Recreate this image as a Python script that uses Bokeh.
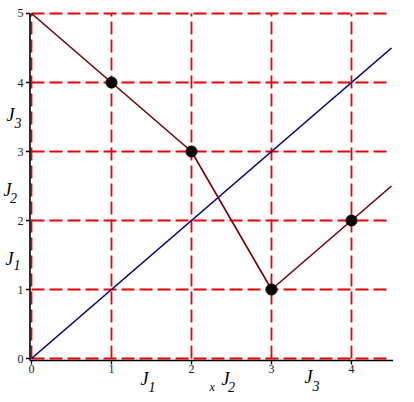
from bokeh.plotting import figure
from bokeh.models import Range1d
from bokeh.core.properties import value
from bokeh.embed import file_html
from bokeh.resources import INLINE

# data
line1_x = [0, 4.5]
line1_y = [0, 4.5]
line2_x = [0, 1, 2, 3, 4, 4.5]
line2_y = [5, 4, 3, 1, 2, 2.5]
pts_x = [1, 2, 3, 4]
pts_y = [4, 3, 1, 2]
x_ticks = [0, 1, 2, 3, 4]
y_ticks = [0, 1, 2, 3, 4, 5]
x_max = 4.5
y_max = 5

SERIF = value("Liberation Serif")

# frame covers the whole canvas so that labels outside the plot area are not clipped
p = figure(width=406, height=394, output_backend="svg", toolbar_location=None,
           x_range=Range1d(-0.3875, 4.6875), y_range=Range1d(-0.5217, 5.1884),
           x_axis_type=None, y_axis_type=None, min_border=0)
p.outline_line_color = None
p.background_fill_color = "white"
p.border_fill_color = "white"

# axis positions (just left of / below the zero lines)
ax_x = -0.019
ax_y = -0.029
tick_dx = 0.05
tick_dy = 0.058

# grid
p.segment(x0=x_ticks, y0=[0] * len(x_ticks), x1=x_ticks, y1=[y_max] * len(x_ticks),
          line_color="#ee0000", line_width=1.8, line_dash="13 5")
p.segment(x0=[0] * len(y_ticks), y0=y_ticks, x1=[x_max] * len(y_ticks), y1=y_ticks,
          line_color="#ee0000", line_width=1.8, line_dash="13 5")

# axes
p.segment(x0=[ax_x, ax_x], y0=[ax_y, ax_y], x1=[ax_x, x_max + 0.02], y1=[y_max, ax_y],
          line_color="black", line_width=1.6)
p.segment(x0=x_ticks, y0=[ax_y] * len(x_ticks), x1=x_ticks, y1=[ax_y - tick_dy] * len(x_ticks),
          line_color="black", line_width=1.3)
p.segment(x0=[ax_x] * len(y_ticks), y0=y_ticks, x1=[ax_x - tick_dx] * len(y_ticks), y1=y_ticks,
          line_color="black", line_width=1.3)
p.text(x=x_ticks, y=[-0.101] * len(x_ticks), text=[str(t) for t in x_ticks],
       text_font=SERIF, text_font_size="12px", text_color="#1a1a1a",
       text_align="center", text_baseline="top")
p.text(x=[-0.1] * len(y_ticks), y=y_ticks, text=[str(t) for t in y_ticks],
       text_font=SERIF, text_font_size="12px", text_color="#1a1a1a",
       text_align="right", text_baseline="middle")

# curves
p.line(line1_x, line1_y, line_color="#000078", line_width=1.6)
p.line(line2_x, line2_y, line_color="#780000", line_width=1.6)
p.scatter(pts_x, pts_y, size=11, fill_color="black", line_color="black")

# J labels: (J x, J baseline y, subscript x, subscript baseline y, subscript)
j_labels = [
    (-0.3125, 3.536, -0.2125, 3.42, "3"),
    (-0.35, 2.435, -0.27, 2.319, "2"),
    (-0.325, 1.449, -0.225, 1.348, "1"),
    (1.3625, -0.30, 1.4625, -0.42, "1"),
    (2.375, -0.30, 2.455, -0.42, "2"),
    (3.4125, -0.275, 3.5125, -0.395, "3"),
]
p.text(x=[l[0] for l in j_labels], y=[l[1] for l in j_labels], text=["J"] * len(j_labels),
       text_font=SERIF, text_font_style="italic", text_font_size="18px",
       text_color="black", text_baseline="alphabetic")
p.text(x=[l[2] for l in j_labels], y=[l[3] for l in j_labels], text=[l[4] for l in j_labels],
       text_font=SERIF, text_font_style="italic", text_font_size="14px",
       text_color="black", text_baseline="alphabetic")
p.text(x=[2.225], y=[-0.42], text=["x"], text_font=SERIF, text_font_style="italic",
       text_font_size="12px", text_color="black", text_baseline="alphabetic")

open("out.html", "w").write(file_html(p, INLINE))
